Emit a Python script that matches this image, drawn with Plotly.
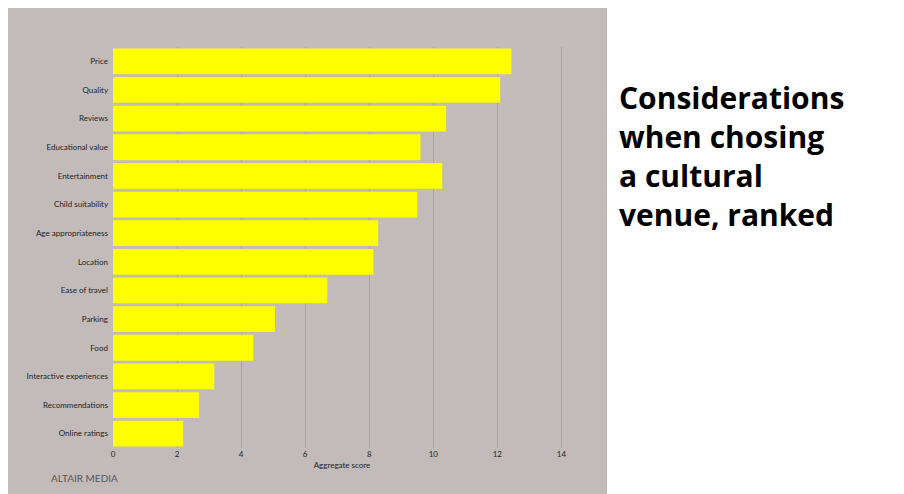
import plotly.graph_objects as go

categories = ["Price", "Quality", "Reviews", "Educational value", "Entertainment",
              "Child suitability", "Age appropriateness", "Location", "Ease of travel",
              "Parking", "Food", "Interactive experiences", "Recommendations", "Online ratings"]
scores = [12.44, 12.09, 10.4, 9.6, 10.28, 9.5, 8.28, 8.13, 6.69, 5.06, 4.38, 3.16, 2.69, 2.19]
tick_vals = [0, 2, 4, 6, 8, 10, 12, 14]

BG = "#c3bbb9"
L, T, PW, PH = 105, 39, 458, 401
W, H = 896, 486
B = H - T - PH
fig = go.Figure(go.Bar(x=scores, y=categories, orientation="h",
                       marker=dict(color="#ffff00", line=dict(width=0))))
fig.update_layout(
    width=W, height=H, paper_bgcolor="white", plot_bgcolor=BG,
    margin=dict(l=L, r=W - L - PW, t=T, b=B),
    bargap=0.1, showlegend=False,
    font=dict(family="Lato", size=8, color="#222"),
    shapes=[dict(type="rect", xref="paper", yref="paper", x0=-(L + 10) / PW, x1=(599 - L) / PW,
                 y0=-(B + 10) / PH, y1=(PH + T + 10) / PH,
                 fillcolor=BG, line=dict(width=0), layer="below")],
    annotations=[
        dict(text="Considerations<br>when chosing<br>a cultural<br>venue, ranked",
             xref="paper", yref="paper", x=(609 - L) / PW, y=(T + PH - 67) / PH,
             xanchor="left", yanchor="top", align="left", showarrow=False,
             font=dict(family="Open Sans", size=30, color="black", weight="bold")),
        dict(text="ALTAIR MEDIA", xref="paper", yref="paper", x=(41 - L) / PW,
             y=-(470 - T - PH) / PH, xanchor="left", yanchor="middle", showarrow=False,
             font=dict(family="Lato", size=10, color="#555")),
    ],
)
fig.update_xaxes(range=[0, 14.3], tickvals=tick_vals, showgrid=True, gridcolor="#a8a2a0",
                 gridwidth=1, zeroline=False, title=dict(text="Aggregate score", standoff=4,
                 font=dict(size=8)), ticks="", tickfont=dict(size=8))
fig.update_yaxes(autorange="reversed", ticks="", showgrid=False, ticksuffix="  ")
fig.write_html("out.html")
